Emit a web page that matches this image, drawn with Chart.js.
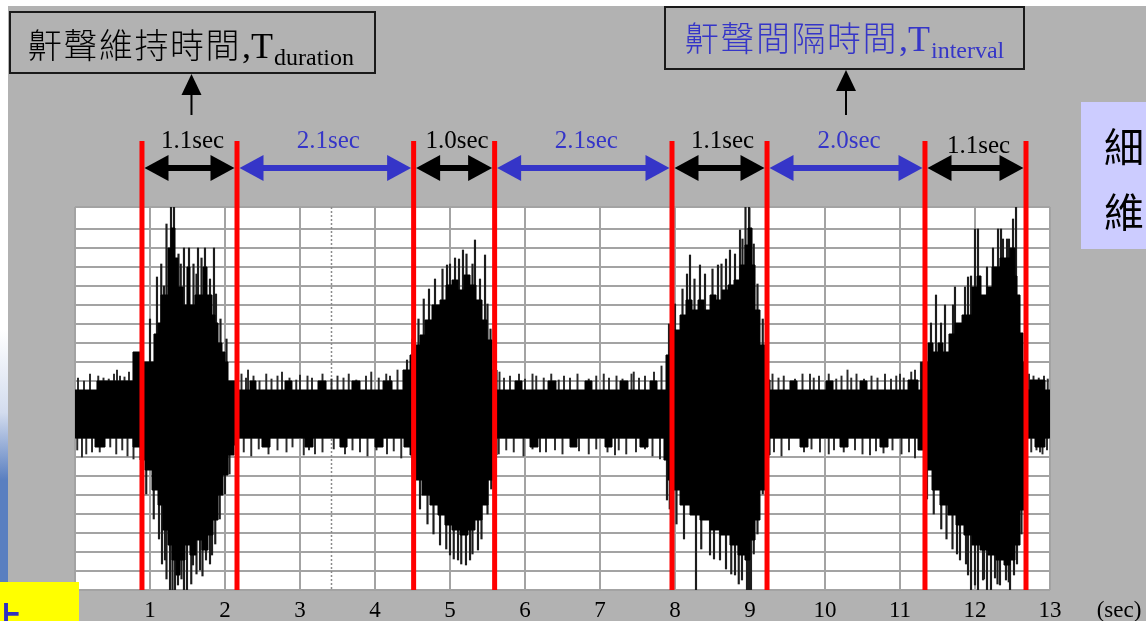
<!DOCTYPE html>
<html>
<head>
<meta charset="utf-8">
<script src="https://cdn.jsdelivr.net/npm/chart.js@4.4.1/dist/chart.umd.min.js"></script>
<style>
  html, body { margin: 0; padding: 0; background: #b2b2b2; }
  canvas { display: block; }
</style>
</head>
<body>
<canvas id="c" width="1146" height="621"></canvas>
<script>
// Snore recording: amplitude envelope (arbitrary units) against time in seconds.
// Upper envelope steps [time, amplitude]
const upperEnvelope = [
  [0,24],[0.293,33],[0.773,62],[0.867,52],[1.053,80],[1.107,91],[1.147,119],[1.24,166],[1.28,186],[1.333,156],
  [1.373,127],[1.44,109],[1.493,147],[1.533,109],[1.6,119],[1.707,147],[1.76,119],[1.827,99],[1.867,91],[1.907,71],
  [1.96,62],[2.0,52],[2.04,33],[2.133,24],[2.333,33],[2.413,24],[2.8,33],[2.893,24],[3.24,33],[3.347,24],
  [3.693,33],[3.8,24],[4.107,33],[4.227,24],[4.373,44],[4.467,59],[4.547,69],[4.6,79],[4.667,94],[4.76,109],
  [4.867,114],[4.947,129],[5.027,134],[5.107,124],[5.187,139],[5.267,129],[5.347,114],[5.427,94],[5.493,74],[5.56,44],
  [5.627,24],[5.867,33],[5.96,24],[6.307,33],[6.413,24],[6.8,33],[6.893,24],[7.267,33],[7.373,24],[7.667,33],
  [7.76,24],[7.88,59],[7.933,74],[7.987,84],[8.067,99],[8.147,114],[8.227,104],[8.307,114],[8.387,104],[8.467,119],
  [8.547,114],[8.627,124],[8.707,129],[8.787,134],[8.867,149],[8.933,169],[8.973,186],[9.027,149],[9.067,104],[9.133,69],
  [9.2,34],[9.267,24],[9.533,33],[9.627,24],[10.013,33],[10.107,24],[10.467,33],[10.56,24],[11.107,34],[11.24,24],
  [11.293,52],[11.373,71],[11.44,62],[11.507,71],[11.573,62],[11.653,80],[11.733,91],[11.827,99],[11.96,127],[12.027,138],
  [12.08,119],[12.16,127],[12.227,147],[12.333,156],[12.467,166],[12.533,138],[12.56,119],[12.6,81],[12.64,52],[12.693,24],
  [12.733,34],[12.933,24],[13,24]
];
// Lower envelope steps [time, amplitude]
const lowerEnvelope = [
  [0,-24],[0.267,-33],[0.4,-24],[0.773,-33],[0.867,-46],[0.933,-56],[1.027,-76],[1.107,-91],[1.173,-116],[1.24,-131],
  [1.293,-146],[1.347,-161],[1.4,-146],[1.467,-131],[1.533,-141],[1.613,-126],[1.693,-136],[1.773,-121],[1.84,-106],[1.907,-81],
  [1.973,-61],[2.04,-41],[2.12,-31],[2.173,-24],[2.493,-33],[2.6,-24],[3.067,-33],[3.173,-24],[3.533,-33],[3.627,-24],
  [4.0,-33],[4.107,-24],[4.387,-33],[4.467,-41],[4.547,-66],[4.627,-81],[4.733,-91],[4.84,-101],[4.933,-111],[5.027,-116],
  [5.133,-121],[5.24,-116],[5.333,-106],[5.427,-91],[5.507,-66],[5.573,-41],[5.627,-24],[6.067,-33],[6.173,-24],[6.6,-33],
  [6.693,-24],[7.067,-33],[7.16,-24],[7.533,-33],[7.64,-24],[7.853,-46],[7.907,-66],[7.96,-76],[8.067,-91],[8.2,-101],
  [8.333,-106],[8.467,-116],[8.6,-121],[8.733,-131],[8.84,-141],[8.933,-146],[9.0,-126],[9.067,-106],[9.133,-76],[9.2,-41],
  [9.267,-24],[9.667,-33],[9.773,-24],[10.2,-33],[10.307,-24],[10.733,-33],[10.84,-24],[11.24,-36],[11.333,-56],[11.427,-76],
  [11.533,-91],[11.64,-101],[11.747,-111],[11.853,-121],[11.96,-131],[12.067,-136],[12.173,-141],[12.28,-146],[12.387,-151],[12.467,-146],
  [12.533,-131],[12.6,-96],[12.653,-56],[12.693,-24],[12.8,-33],[12.933,-24],[13,-24]
];
// Isolated peaks between snores [time, low, high]
const quietPeaks = [
  [0.04,0,36],[0.12,0,33],[0.2,0,40],[0.31,0,38],[0.38,0,36],[0.45,0,35],[0.52,0,40],[0.56,0,44],[0.6,0,38],[0.66,0,37],[0.72,0,42],[0.8,0,50],
  [0.03,-36,0],[0.093,-43,0],[0.15,-40,0],[0.227,-38,0],[0.33,-38,0],[0.47,-33,0],[0.55,-40,0],[0.63,-36,0],[0.7,-42,0],[0.78,-45,0],
  [2.22,0,40],[2.28,0,36],[2.307,0,44],[2.38,0,38],[2.46,0,33],[2.55,0,40],[2.62,0,35],[2.7,0,38],[2.76,0,42],[2.86,0,36],[2.95,0,34],[3.0,0,39],
  [3.1,0,38],[3.16,0,36],[3.3,0,40],[3.42,0,35],[3.5,0,38],[3.58,0,36],[3.65,0,40],[3.75,0,34],[3.88,0,38],[3.95,0,42],[4.05,0,36],[4.15,0,40],[4.2,0,38],[4.3,0,44],
  [2.25,-38,0],[2.35,-42,0],[2.45,-35,0],[2.58,-40,0],[2.7,-36,0],[2.82,-38,0],[2.9,-33,0],[3.05,-41,0],[3.12,-36,0],[3.2,-40,0],[3.3,-38,0],
  [3.45,-35,0],[3.6,-40,0],[3.7,-36,0],[3.8,-38,0],[3.9,-42,0],[4.02,-36,0],[4.16,-40,0],[4.25,-37,0],[4.35,-44,0],
  [5.66,0,42],[5.72,0,36],[5.8,0,38],[5.92,0,40],[6.0,0,35],[6.1,0,40],[6.15,0,38],[6.25,0,36],[6.35,0,40],[6.45,0,34],[6.52,0,38],[6.6,0,36],
  [6.7,0,40],[6.85,0,35],[6.95,0,38],[7.05,0,40],[7.12,0,36],[7.22,0,38],[7.3,0,35],[7.42,0,40],[7.45,0,42],[7.52,0,36],[7.6,0,38],[7.72,0,42],[7.82,0,48],
  [5.65,-40,0],[5.75,-36,0],[5.85,-38,0],[5.98,-42,0],[6.1,-35,0],[6.2,-38,0],[6.28,-38,0],[6.4,-36,0],[6.5,-40,0],[6.72,-37,0],[6.85,-40,0],
  [6.95,-35,0],[7.1,-38,0],[7.2,-41,0],[7.25,-36,0],[7.35,-40,0],[7.48,-38,0],[7.6,-35,0],[7.7,-42,0],[7.8,-45,0],
  [9.3,0,40],[9.38,0,36],[9.45,0,38],[9.6,0,35],[9.7,0,40],[9.8,0,40],[9.85,0,36],[9.92,0,38],[10.05,0,40],[10.15,0,35],[10.22,0,38],[10.3,0,44],
  [10.35,0,36],[10.42,0,40],[10.52,0,35],[10.62,0,38],[10.7,0,36],[10.8,0,40],[10.88,0,35],[10.95,0,38],[11.0,0,40],[11.05,0,36],[11.15,0,42],[11.2,0,44],
  [9.32,-38,0],[9.42,-42,0],[9.52,-36,0],[9.72,-38,0],[9.82,-35,0],[9.933,-38,0],[10.05,-40,0],[10.12,-36,0],[10.25,-38,0],[10.4,-36,0],[10.5,-40,0],
  [10.6,-41,0],[10.68,-37,0],[10.78,-39,0],[10.9,-36,0],[11.02,-40,0],[11.12,-38,0],[11.2,-44,0],
  [12.72,0,40],[12.78,0,38],[12.85,0,36],[12.92,0,38],[12.97,0,35],
  [12.75,-38,0],[12.82,-36,0],[12.867,-38,0],[12.9,-40,0],[12.96,-36,0]
];
// Isolated peaks inside the snores [time, low, high]
const snorePeaks = [
  [1.0,0,95],[1.093,0,137],[1.15,0,150],[1.187,0,128],[1.22,0,190],[1.28,0,207],[1.32,0,207],[1.38,0,160],[1.41,0,150],[1.453,0,166],[1.52,0,166],
  [1.58,0,150],[1.62,0,140],[1.64,0,166],[1.687,0,156],[1.733,0,166],[1.8,0,135],[1.853,0,166],[1.88,0,120],[1.94,0,95],[2.02,0,75],
  [0.95,-80,0],[1.05,-105,0],[1.12,-125,0],[1.16,-150,0],[1.2,-146,0],[1.22,-165,0],[1.267,-176,0],[1.3,-176,0],[1.333,-176,0],[1.373,-171,0],
  [1.42,-165,0],[1.453,-176,0],[1.493,-176,0],[1.55,-170,0],[1.573,-151,0],[1.62,-160,0],[1.667,-156,0],[1.7,-162,0],[1.747,-146,0],[1.8,-150,0],
  [1.827,-141,0],[1.87,-130,0],[1.93,-105,0],[2.0,-80,0],[2.06,-60,0],
  [4.427,0,54],[4.5,0,75],[4.58,0,95],[4.65,0,115],[4.72,0,125],[4.8,0,135],[4.9,0,145],[4.96,0,149],[5.0,0,150],[5.067,0,156],[5.12,0,155],
  [5.173,0,164],[5.22,0,160],[5.3,0,150],[5.333,0,174],[5.4,0,135],[5.467,0,159],[5.5,0,110],[5.54,0,85],
  [4.5,-60,0],[4.6,-95,0],[4.7,-110,0],[4.78,-120,0],[4.867,-131,0],[4.95,-135,0],[5.0,-141,0],[5.05,-145,0],[5.107,-146,0],[5.15,-150,0],
  [5.213,-151,0],[5.267,-146,0],[5.3,-140,0],[5.373,-136,0],[5.42,-125,0],[5.5,-100,0],[5.55,-75,0],
  [7.92,0,90],[8.0,0,110],[8.1,0,125],[8.16,0,140],[8.2,0,159],[8.26,0,135],[8.333,0,149],[8.4,0,140],[8.5,0,145],[8.573,0,149],[8.62,0,150],
  [8.68,0,155],[8.733,0,164],[8.8,0,160],[8.867,0,184],[8.9,0,175],[8.94,0,207],[8.987,0,207],[9.05,0,170],[9.1,0,130],[9.17,0,95],
  [7.893,-86,0],[7.93,-95,0],[8.02,-110,0],[8.12,-125,0],[8.28,-176,0],[8.35,-135,0],[8.467,-141,0],[8.52,-145,0],[8.6,-146,0],[8.68,-155,0],
  [8.75,-160,0],[8.8,-161,0],[8.85,-170,0],[8.893,-166,0],[8.96,-176,0],[8.987,-176,0],[9.013,-176,0],[9.05,-140,0],[9.1,-120,0],[9.17,-80,0],
  [11.28,0,52],[11.413,0,91],[11.48,0,119],[11.547,0,91],[11.6,0,109],[11.707,0,109],[11.733,0,127],[11.867,0,127],[11.907,0,137],[11.947,0,138],
  [12.0,0,185],[12.04,0,185],[12.16,0,147],[12.24,0,166],[12.307,0,185],[12.347,0,185],[12.373,0,175],[12.427,0,175],[12.453,0,175],[12.507,0,195],[12.547,0,207],
  [11.36,-85,0],[11.45,-100,0],[11.55,-115,0],[11.62,-125,0],[11.7,-135,0],[11.76,-140,0],[11.8,-146,0],[11.88,-150,0],[11.907,-161,0],[11.947,-176,0],
  [12.0,-171,0],[12.04,-176,0],[12.107,-166,0],[12.12,-165,0],[12.16,-176,0],[12.213,-176,0],[12.267,-164,0],[12.3,-170,0],[12.333,-171,0],
  [12.413,-166,0],[12.45,-168,0],[12.467,-176,0],[12.52,-161,0],[12.56,-150,0],[12.62,-120,0]
];

// Snore event boundaries (s) and the span labels between them
const eventBounds = [0.893, 2.16, 4.515, 5.595, 7.96, 9.227, 11.333, 12.68];
const spanLabels = ['1.1sec', '2.1sec', '1.0sec', '2.1sec', '1.1sec', '2.0sec', '1.1sec'];
const dottedMark = 3.41;

// Axis
const xTicks = [1,2,3,4,5,6,7,8,9,10,11,12,13];
const xTickLabels = ['1','2','3','4','5','6','7','8','9','10','11','12','13'];
const xUnit = '(sec)';
const ampMin = -176, ampMax = 207;
const yGrid = [];
for (let v = ampMin; v < ampMax - 10; v += 19) yGrid.push(v);
yGrid.push(ampMax);

const durationTitle = ['鼾聲維持時間', ',T', 'duration'];
const intervalTitle = ['鼾聲間隔時間', ',T', 'interval'];
const sideText = ['細', '維'];
const cornerText = '上';

const BLUE = '#3535c8';
const SERIF = '"Liberation Serif", "DejaVu Serif", serif';
const CJK = '"Noto Sans CJK TC", "Noto Sans CJK SC", sans-serif';

function arrowHead(ctx, tipX, tipY, dir, len, half) {
  ctx.beginPath();
  ctx.moveTo(tipX, tipY);
  ctx.lineTo(tipX + dir * len, tipY - half);
  ctx.lineTo(tipX + dir * len, tipY + half);
  ctx.closePath();
  ctx.fill();
}
function upArrow(ctx, x, tipY, bottomY) {
  ctx.save();
  ctx.fillStyle = '#000'; ctx.strokeStyle = '#000'; ctx.lineWidth = 2;
  ctx.beginPath(); ctx.moveTo(x, bottomY); ctx.lineTo(x, tipY + 15); ctx.stroke();
  ctx.beginPath(); ctx.moveTo(x, tipY); ctx.lineTo(x - 10, tipY + 21); ctx.lineTo(x + 10, tipY + 21); ctx.closePath(); ctx.fill();
  ctx.restore();
}
function titleBox(ctx, parts, box, x, base, color) {
  ctx.save();
  ctx.strokeStyle = '#1a1a1a'; ctx.lineWidth = 2;
  ctx.strokeRect(box[0], box[1], box[2], box[3]);
  ctx.fillStyle = color; ctx.textAlign = 'left'; ctx.textBaseline = 'alphabetic';
  ctx.font = '300 34px ' + CJK;
  let cx = x;
  for (const ch of parts[0]) { ctx.fillText(ch, cx, base); cx += 35.5; }
  ctx.font = '36px ' + SERIF;
  ctx.fillText(parts[1], cx + 1, base);
  cx += 1 + ctx.measureText(parts[1]).width;
  ctx.font = '24px ' + SERIF;
  ctx.fillText(parts[2], cx + 1, base + 7);
  ctx.restore();
}

const decor = {
  id: 'decor',
  beforeDraw(chart) {
    const { ctx, chartArea: a, width, height } = chart;
    ctx.save();
    ctx.fillStyle = '#b2b2b2'; ctx.fillRect(0, 0, width, height);
    ctx.fillStyle = '#ffffff'; ctx.fillRect(0, 0, width, 6);
    const g = ctx.createLinearGradient(0, 330, 0, 480);
    g.addColorStop(0, '#ffffff'); g.addColorStop(0.55, '#d3dcee'); g.addColorStop(1, '#5a7fc0');
    ctx.fillStyle = g; ctx.fillRect(0, 0, 8, height);
    ctx.fillStyle = '#ffffff'; ctx.fillRect(a.left, a.top, a.right - a.left, a.bottom - a.top);
    ctx.restore();
  },
  beforeDatasetsDraw(chart) {
    const { ctx, chartArea: a, scales: { x } } = chart;
    const px = Math.round(x.getPixelForValue(dottedMark)) + 0.5;
    ctx.save();
    ctx.strokeStyle = '#8a8a8a'; ctx.lineWidth = 1.5; ctx.setLineDash([2, 2]);
    ctx.beginPath(); ctx.moveTo(px, a.top); ctx.lineTo(px, a.bottom); ctx.stroke();
    ctx.restore();
  },
  afterDatasetsDraw(chart) {
    const { ctx, chartArea: a, scales: { x } } = chart;
    ctx.save();
    ctx.fillStyle = '#ff0000';
    eventBounds.forEach(t => {
      const px = x.getPixelForValue(t);
      ctx.fillRect(px - 2.5, a.top - 66, 5, a.bottom - a.top + 66);
    });
    ctx.restore();
  },
  afterDraw(chart) {
    const { ctx, chartArea: a, scales: { x } } = chart;
    const bx = eventBounds.map(t => x.getPixelForValue(t));
    ctx.save();
    // span arrows and labels
    const ay = a.top - 39;
    for (let i = 0; i < spanLabels.length; i++) {
      const c = i % 2 === 0 ? '#000000' : BLUE;
      const l = bx[i] + 2.5, r = bx[i + 1] - 2.5;
      ctx.fillStyle = c;
      ctx.fillRect(l + 20, ay - 3, r - l - 40, 6);
      arrowHead(ctx, l, ay, 1, 24, 13);
      arrowHead(ctx, r, ay, -1, 24, 13);
      ctx.font = '25px ' + SERIF;
      ctx.textAlign = 'center'; ctx.textBaseline = 'alphabetic';
      ctx.fillText(spanLabels[i], (bx[i] + bx[i + 1]) / 2 + 3, i === spanLabels.length - 1 ? a.top - 54 : a.top - 59);
    }
    // title boxes with pointers
    titleBox(ctx, durationTitle, [10, 12, 365, 61], 28, 58, '#000000');
    titleBox(ctx, intervalTitle, [665, 7, 359, 62], 685, 51, BLUE);
    upArrow(ctx, (bx[0] + bx[1]) / 2 + 2, 74, 115);
    upArrow(ctx, (bx[5] + bx[6]) / 2, 70, 115);
    // x tick labels
    ctx.fillStyle = '#000'; ctx.font = '23px ' + SERIF;
    ctx.textAlign = 'center'; ctx.textBaseline = 'alphabetic';
    xTicks.forEach((v, i) => ctx.fillText(xTickLabels[i], x.getPixelForValue(v), 617));
    ctx.fillText(xUnit, 1119, 617);
    // side panel
    ctx.fillStyle = '#ccccff'; ctx.fillRect(1081, 102, 65, 147);
    ctx.fillStyle = '#000'; ctx.font = '40px ' + CJK; ctx.textAlign = 'left';
    ctx.fillText(sideText[0], 1104, 162);
    ctx.fillText(sideText[1], 1104, 227);
    // corner tag
    ctx.fillStyle = '#ffff00'; ctx.fillRect(0, 582, 79, 39);
    ctx.fillStyle = '#3030c0'; ctx.font = 'bold 30px ' + CJK;
    ctx.fillText(cornerText, -8, 628);
    ctx.restore();
  }
};

const gridStyle = { color: '#a3a3a3', lineWidth: 2, drawTicks: false, offset: false };
const peakBars = arr => arr.map(p => ({ x: p[0], y: [p[1], p[2]] }));

new Chart(document.getElementById('c'), {
  type: 'line',
  data: {
    datasets: [
      {
        data: upperEnvelope.map(p => ({ x: p[0], y: p[1] })),
        stepped: true, fill: 'origin', backgroundColor: '#000', borderColor: '#000',
        borderWidth: 1, pointRadius: 0
      },
      {
        data: lowerEnvelope.map(p => ({ x: p[0], y: p[1] })),
        stepped: true, fill: 'origin', backgroundColor: '#000', borderColor: '#000',
        borderWidth: 1, pointRadius: 0
      },
      {
        type: 'bar', data: peakBars(quietPeaks),
        backgroundColor: '#2a2a2a', barThickness: 1.3, grouped: false
      },
      {
        type: 'bar', data: peakBars(snorePeaks),
        backgroundColor: '#1c1c1c', barThickness: 1.5, grouped: false
      }
    ]
  },
  options: {
    responsive: false, animation: false, devicePixelRatio: 1,
    layout: { padding: { left: 75, right: 96, top: 207, bottom: 31 } },
    plugins: { legend: { display: false }, tooltip: { enabled: false } },
    scales: {
      x: {
        type: 'linear', min: 0, max: 13, offset: false,
        ticks: { display: false, stepSize: 1 },
        grid: gridStyle, border: { display: false }
      },
      y: {
        type: 'linear', min: ampMin, max: ampMax,
        afterBuildTicks: s => { s.ticks = yGrid.map(v => ({ value: v })); },
        ticks: { display: false },
        grid: gridStyle, border: { display: false }
      }
    }
  },
  plugins: [decor]
});
</script>
</body>
</html>
